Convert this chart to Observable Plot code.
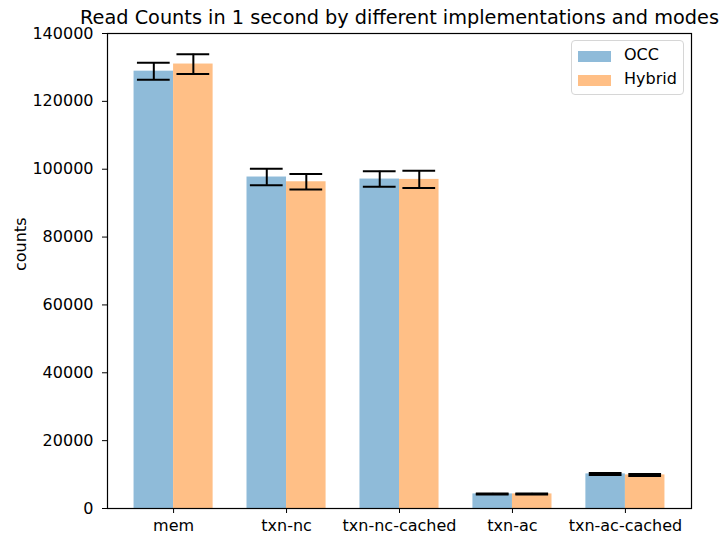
<!DOCTYPE html>
<html><head><meta charset="utf-8">
<script src="https://cdn.jsdelivr.net/npm/d3@7"></script>
<script src="https://cdn.jsdelivr.net/npm/@observablehq/plot@0.6"></script>
<style>
body{margin:0;background:#fff;font-family:"DejaVu Sans",sans-serif;}
#wrap{position:relative;width:724px;height:535px;}
.legend{position:absolute;left:571px;top:40px;width:113px;height:55px;border:1px solid #d6d6d6;border-radius:4px;background:rgba(255,255,255,0.8);box-sizing:border-box;font-size:16px;color:#000;}
.item{position:absolute;left:6px;height:18px;}
.sw{position:absolute;left:0;top:4px;width:33px;height:11px;}
.lab{position:absolute;left:46px;top:-1px;white-space:nowrap;line-height:18px;}
</style>
</head><body>
<div id="wrap"></div>
<script>
const title = "Read Counts in 1 second by different implementations and modes";
const yLabel = "counts";
const categories = ["mem", "txn-nc", "txn-nc-cached", "txn-ac", "txn-ac-cached"];
const series = ["OCC", "Hybrid"];
const occValues = [128900, 97700, 97100, 4300, 10200];
const occErrors = [2500, 2450, 2300, 150, 300];
const hybridValues = [131000, 96300, 97000, 4300, 9900];
const hybridErrors = [2900, 2300, 2550, 150, 300];
const yTicks = [0, 20000, 40000, 60000, 80000, 100000, 120000, 140000];
const colors = ["#8fbbd9", "#ffbf86"];

const barWidth = 0.35;
const capHalf = 0.145;
const rows = [];
categories.forEach((c, i) => {
  rows.push({i, cat: c, series: "OCC", value: occValues[i], err: occErrors[i], x1: i - barWidth, x2: i, cx: i - barWidth / 2});
  rows.push({i, cat: c, series: "Hybrid", value: hybridValues[i], err: hybridErrors[i], x1: i, x2: i + barWidth, cx: i + barWidth / 2});
});

const chart = Plot.plot({
  width: 724,
  height: 535,
  marginLeft: 107,
  marginRight: 33,
  marginTop: 33,
  marginBottom: 27,
  style: {fontFamily: "DejaVu Sans, sans-serif", fontSize: "16px", color: "black", background: "white"},
  x: {type: "linear", domain: [-0.585, 4.585]},
  y: {domain: [0, 140000]},
  color: {domain: series, range: colors},
  marks: [
    Plot.rectY(rows, {x1: "x1", x2: "x2", y: "value", fill: "series"}),
    Plot.ruleX(rows, {x: "cx", y1: d => d.value - d.err, y2: d => d.value + d.err, stroke: "black", strokeWidth: 2}),
    Plot.ruleY(rows, {y: d => d.value + d.err, x1: d => d.cx - capHalf, x2: d => d.cx + capHalf, stroke: "black", strokeWidth: 2}),
    Plot.ruleY(rows, {y: d => d.value - d.err, x1: d => d.cx - capHalf, x2: d => d.cx + capHalf, stroke: "black", strokeWidth: 2}),
    Plot.axisY({ticks: yTicks, tickFormat: d3.format("d"), tickSize: 5, tickPadding: 9, label: null, fontSize: 16}),
    Plot.axisX({ticks: d3.range(categories.length), tickFormat: i => categories[i], tickSize: 5, tickPadding: 6, label: null, fontSize: 16}),
    Plot.frame({stroke: "black", strokeWidth: 1.2}),
    Plot.text([title], {frameAnchor: "top", lineAnchor: "bottom", dy: -10, fontSize: 19.3, fill: "black"}),
    Plot.text([yLabel], {frameAnchor: "left", rotate: -90, dx: -87, fontSize: 16, fill: "black"})
  ]
});
const wrap = document.getElementById("wrap");
wrap.appendChild(chart);

const legend = document.createElement("div");
legend.className = "legend";
series.forEach((s, k) => {
  const item = document.createElement("div");
  item.className = "item";
  item.style.top = (6 + k * 24) + "px";
  const sw = document.createElement("div");
  sw.className = "sw";
  sw.style.background = colors[k];
  const lab = document.createElement("div");
  lab.className = "lab";
  lab.textContent = s;
  item.appendChild(sw);
  item.appendChild(lab);
  legend.appendChild(item);
});
wrap.appendChild(legend);
</script>
</body></html>
